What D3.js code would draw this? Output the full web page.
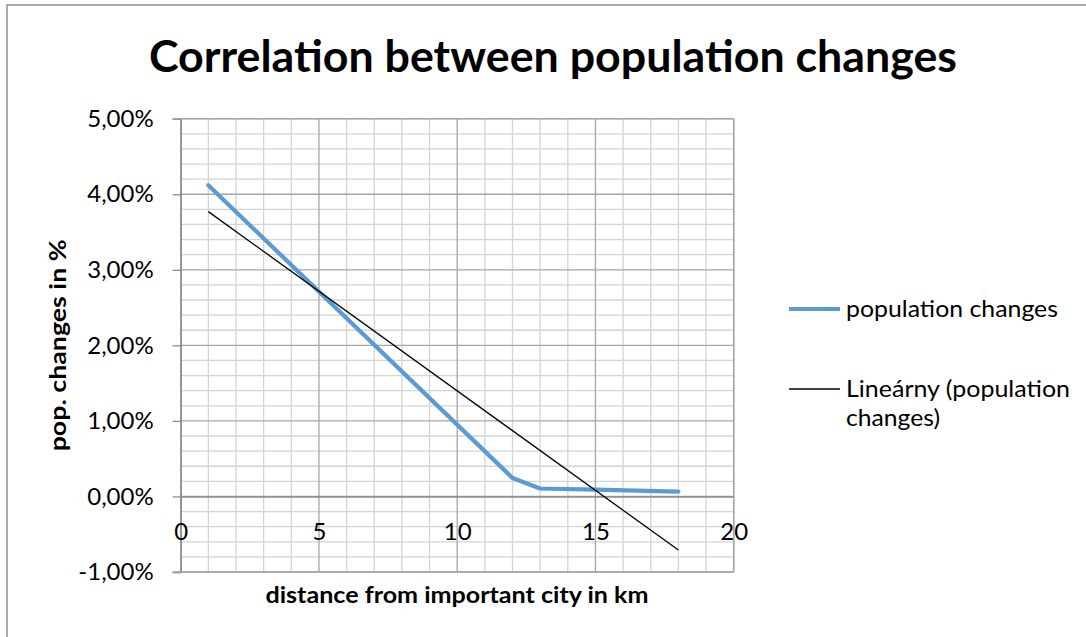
<!DOCTYPE html>
<html>
<head>
<meta charset="utf-8">
<script src="https://cdn.jsdelivr.net/npm/d3@7/dist/d3.min.js"></script>
<style>
  html, body { margin: 0; padding: 0; background: #fff; }
  svg { display: block; }
  text { font-family: Lato, "Open Sans", "Noto Sans", sans-serif; fill: #000; }
</style>
</head>
<body>
<svg id="chart" width="1086" height="637"></svg>
<script>
// Distance from the city (km) and the observed population change (%)
const distanceKm = [1, 12, 13, 15, 18];
const popChange = [4.12, 0.245, 0.105, 0.09, 0.065];

// Linear trend line endpoints (km, %)
const trendKm = [1, 18];
const trendPct = [3.77, -0.71];

const xTicks = [0, 5, 10, 15, 20];
const yTicks = [-1, 0, 1, 2, 3, 4, 5];
const yTickLabels = ["-1,00%", "0,00%", "1,00%", "2,00%", "3,00%", "4,00%", "5,00%"];

const titleText = "Correlation between population changes";
const xTitle = "distance from important city in km";
const yTitle = "pop. changes in %";
const seriesName = "population changes";
const trendNameLines = ["Lineárny (population", "changes)"];

const svg = d3.select("#chart");
const W = 1086, H = 637;
const plot = { left: 180.7, right: 733.7, top: 118.7, bottom: 572 };
const FONT = "Lato, 'Open Sans', sans-serif";

const x = d3.scaleLinear().domain([0, 20]).range([plot.left, plot.right]);
const y = d3.scaleLinear().domain([-1, 5]).range([plot.bottom, plot.top]);

// outer chart frame
svg.append("rect")
  .attr("x", 7).attr("y", 5).attr("width", W + 20).attr("height", H + 20)
  .attr("fill", "#fff").attr("stroke", "#8e8e8e").attr("stroke-width", 1.5);

// minor gridlines: every 1 km and every 0.2 %
const minorX = d3.range(0, 21, 1).filter(v => v % 5 !== 0);
const minorY = d3.range(-1, 5.0001, 0.2).map(v => Math.round(v * 10) / 10)
  .filter(v => Math.abs(v - Math.round(v)) > 1e-6);

const grid = svg.append("g");
grid.selectAll("line.mx").data(minorX).join("line")
  .attr("x1", d => x(d)).attr("x2", d => x(d))
  .attr("y1", plot.top).attr("y2", plot.bottom)
  .attr("stroke", "#d4d4d4").attr("stroke-width", 1.3);
grid.selectAll("line.my").data(minorY).join("line")
  .attr("x1", plot.left).attr("x2", plot.right)
  .attr("y1", d => y(d)).attr("y2", d => y(d))
  .attr("stroke", "#d4d4d4").attr("stroke-width", 1.3);

// major gridlines
grid.selectAll("line.Mx").data(xTicks).join("line")
  .attr("x1", d => x(d)).attr("x2", d => x(d))
  .attr("y1", plot.top).attr("y2", plot.bottom)
  .attr("stroke", "#a6a6a6").attr("stroke-width", 1.3);
grid.selectAll("line.My").data(yTicks).join("line")
  .attr("x1", plot.left).attr("x2", plot.right)
  .attr("y1", d => y(d)).attr("y2", d => y(d))
  .attr("stroke", "#a6a6a6").attr("stroke-width", 1.3);

// y axis (left, at x = 0)
const yAxis = d3.axisLeft(y).tickValues(yTicks)
  .tickFormat((d, i) => yTickLabels[i]).tickSize(8).tickPadding(19);
const gy = svg.append("g").attr("transform", `translate(${x(0)},0)`).call(yAxis);
gy.attr("font-family", FONT).attr("font-size", 24);
gy.select(".domain").attr("stroke", "#8c8c8c").attr("stroke-width", 1.5);
gy.selectAll(".tick line").attr("stroke", "#8c8c8c").attr("stroke-width", 1.3);
gy.selectAll(".tick text").attr("fill", "#000");

// x axis crossing at 0 %
const xAxis = d3.axisBottom(x).tickValues(xTicks).tickSize(0).tickPadding(27);
const gx = svg.append("g").attr("transform", `translate(0,${y(0)})`).call(xAxis);
gx.attr("font-family", FONT).attr("font-size", 24);
gx.select(".domain").attr("stroke", "#8c8c8c").attr("stroke-width", 1.5);
gx.selectAll(".tick text").attr("fill", "#000");

// plot frame top/right/bottom
svg.append("line").attr("x1", plot.left - 8).attr("x2", plot.right)
  .attr("y1", plot.top).attr("y2", plot.top).attr("stroke", "#a6a6a6").attr("stroke-width", 1.5);
svg.append("line").attr("x1", plot.right).attr("x2", plot.right)
  .attr("y1", plot.top).attr("y2", plot.bottom).attr("stroke", "#a6a6a6").attr("stroke-width", 1.5);
svg.append("line").attr("x1", plot.left - 8).attr("x2", plot.right)
  .attr("y1", plot.bottom).attr("y2", plot.bottom).attr("stroke", "#a6a6a6").attr("stroke-width", 1.5);

// data series
const line = d3.line().x(d => x(d[0])).y(d => y(d[1]));
svg.append("path")
  .datum(distanceKm.map((d, i) => [d, popChange[i]]))
  .attr("d", line).attr("fill", "none")
  .attr("stroke", "#5b9bd5").attr("stroke-width", 4.2)
  .attr("stroke-linejoin", "round").attr("stroke-linecap", "round");

// linear trend
svg.append("path")
  .datum(trendKm.map((d, i) => [d, trendPct[i]]))
  .attr("d", line).attr("fill", "none")
  .attr("stroke", "#000").attr("stroke-width", 1.3);

// title
svg.append("text").attr("x", 553).attr("y", 72)
  .attr("text-anchor", "middle").attr("font-size", 43).attr("font-weight", "bold")
  .attr("textLength", 808).attr("lengthAdjust", "spacingAndGlyphs")
  .text(titleText);

// axis titles
svg.append("text").attr("x", 457).attr("y", 603)
  .attr("text-anchor", "middle").attr("font-size", 23).attr("font-weight", "bold")
  .attr("textLength", 383).attr("lengthAdjust", "spacingAndGlyphs")
  .text(xTitle);
svg.append("text").attr("transform", `translate(66,${(plot.top + plot.bottom) / 2}) rotate(-90)`)
  .attr("text-anchor", "middle").attr("font-size", 23).attr("font-weight", "bold")
  .attr("textLength", 212).attr("lengthAdjust", "spacingAndGlyphs")
  .text(yTitle);

// legend
const lg = svg.append("g");
lg.append("line").attr("x1", 789).attr("x2", 840).attr("y1", 309).attr("y2", 309)
  .attr("stroke", "#5b9bd5").attr("stroke-width", 4.2);
lg.append("text").attr("x", 846).attr("y", 317).attr("font-size", 24)
  .attr("textLength", 212).attr("lengthAdjust", "spacingAndGlyphs").text(seriesName);
lg.append("line").attr("x1", 789).attr("x2", 840).attr("y1", 389).attr("y2", 389)
  .attr("stroke", "#000").attr("stroke-width", 1.3);
lg.append("text").attr("x", 846).attr("y", 397).attr("font-size", 24)
  .attr("textLength", 224).attr("lengthAdjust", "spacingAndGlyphs").text(trendNameLines[0]);
lg.append("text").attr("x", 846).attr("y", 426).attr("font-size", 24)
  .attr("textLength", 94).attr("lengthAdjust", "spacingAndGlyphs").text(trendNameLines[1]);
</script>
</body>
</html>
